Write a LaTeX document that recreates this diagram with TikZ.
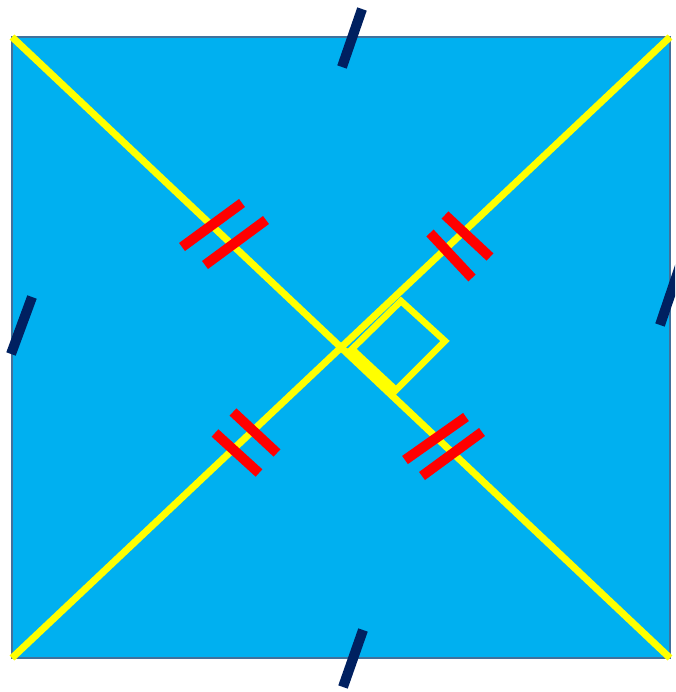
\documentclass[tikz,border=0pt]{standalone}
\definecolor{sqfill}{HTML}{00B0F0}
\definecolor{sqedge}{HTML}{41719C}
\definecolor{navy}{HTML}{002060}
\definecolor{yel}{HTML}{FFFF00}
\definecolor{redt}{HTML}{FF0000}
\begin{document}
\begin{tikzpicture}[x=1pt,y=-1pt,
  diag/.style={draw=yel,line width=7pt},
  sidetick/.style={draw=navy,line width=10pt},
  redtick/.style={draw=redt,line width=10pt},
  rightmark/.style={draw=yel,line width=6.5pt,line join=miter}]
\useasboundingbox (0,0) rectangle (675,692);
\clip (0,0) rectangle (675,692);
% square
\draw[fill=sqfill,draw=sqedge,line width=2pt] (12,37) rectangle (670,658);
\coordinate (tl) at (12,37);
\coordinate (tr) at (670,37);
\coordinate (bl) at (12,658);
\coordinate (br) at (670,658);
% diagonals
\draw[diag] (tl) -- (br);
\draw[diag] (tr) -- (bl);
% right angle marker
\coordinate (ctr) at (341,347.5);
\coordinate (mL) at (352,349);
\coordinate (mT) at (401,301);
\coordinate (mR) at (445,341);
\coordinate (mB) at (396,390);
\coordinate (mD) at (396,399);
\fill[yel] (ctr) -- (mL) -- (mB) -- (mD) -- cycle;
\draw[rightmark] (mL) -- (mT) -- (mR) -- (mB) -- cycle;
% side ticks
\coordinate (t1a) at (362,9);   \coordinate (t1b) at (342,67);
\coordinate (t2a) at (32,297);  \coordinate (t2b) at (11,354);
\coordinate (t3a) at (680,266); \coordinate (t3b) at (660,325);
\coordinate (t4a) at (363,630); \coordinate (t4b) at (343,687);
\draw[sidetick] (t1a) -- (t1b);
\draw[sidetick] (t2a) -- (t2b);
\draw[sidetick] (t3a) -- (t3b);
\draw[sidetick] (t4a) -- (t4b);
% red double ticks
\coordinate (r1a) at (182,247); \coordinate (r1b) at (242,203);
\coordinate (r2a) at (205,265); \coordinate (r2b) at (266,220);
\coordinate (r3a) at (430,233); \coordinate (r3b) at (472,278);
\coordinate (r4a) at (445,215); \coordinate (r4b) at (490,257);
\coordinate (r5a) at (215,433); \coordinate (r5b) at (259,473);
\coordinate (r6a) at (233,412); \coordinate (r6b) at (277,453);
\coordinate (r7a) at (405,460); \coordinate (r7b) at (466,417);
\coordinate (r8a) at (422,476); \coordinate (r8b) at (482,432);
\draw[redtick] (r1a) -- (r1b);
\draw[redtick] (r2a) -- (r2b);
\draw[redtick] (r3a) -- (r3b);
\draw[redtick] (r4a) -- (r4b);
\draw[redtick] (r5a) -- (r5b);
\draw[redtick] (r6a) -- (r6b);
\draw[redtick] (r7a) -- (r7b);
\draw[redtick] (r8a) -- (r8b);
\end{tikzpicture}
\end{document}
